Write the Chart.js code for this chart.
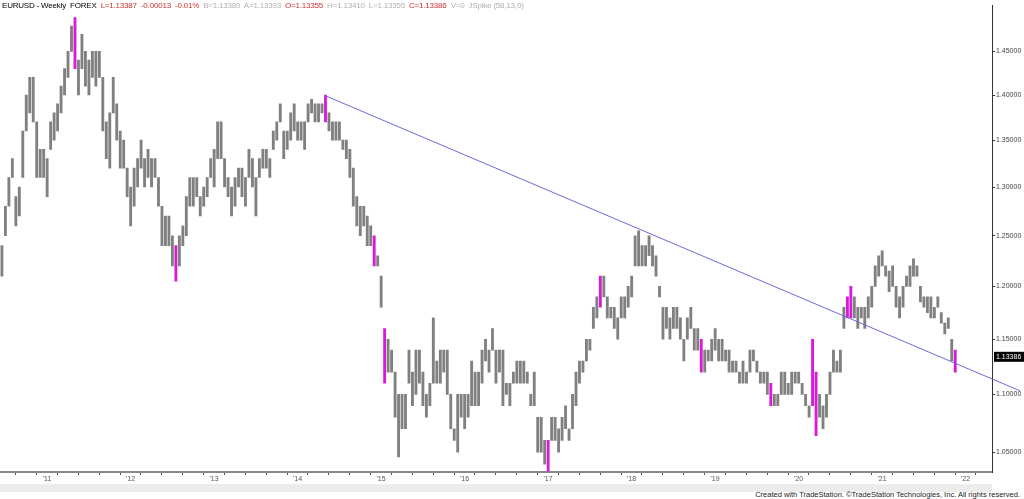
<!DOCTYPE html>
<html><head><meta charset="utf-8">
<script src="https://cdn.jsdelivr.net/npm/chart.js@4"></script>
<style>
html,body{margin:0;padding:0;background:#fff;width:1024px;height:499px;overflow:hidden;font-family:Arial,"Liberation Sans",sans-serif}
#wrap{position:absolute;left:0;top:0;width:1024px;height:484px}
#hdr{position:absolute;left:2px;top:1px;font-size:8px;white-space:nowrap;letter-spacing:-0.2px}
#hdr .k{color:#000}#hdr .r{color:#d03030}#hdr .g{color:#b0b0b0}
#bar{position:absolute;left:0;top:484px;width:992px;height:8px;background:#ececec}
#ft{position:absolute;right:4px;top:490px;font-size:7.5px;color:#222}
</style></head><body>
<div id="bar"></div>
<div id="wrap"><canvas id="c" width="1024" height="484"></canvas></div>
<div id="hdr"><span class="k">EURUSD - Weekly&nbsp; FOREX</span>&nbsp; <span class="r">L=1.13387&nbsp; -0.00013&nbsp; -0.01%</span>&nbsp; <span class="g">B=1.13380&nbsp; A=1.13393</span>&nbsp; <span class="r">O=1.13355</span>&nbsp; <span class="g">H=1.13410&nbsp; L=1.13355</span>&nbsp; <span class="r">C=1.13386</span>&nbsp; <span class="g">V=0&nbsp; JSpike (58,13,0)</span></div>
<div id="ft">Created with TradeStation. ©TradeStation Technologies, Inc. All rights reserved.</div>
<script>
const startYear = 2010.46, periodsPerYear = 24;
const lows = [
1.21,1.25,1.28,1.31,1.26,1.27,1.31,1.36,1.38,1.37,1.31,1.31,1.31,
1.29,1.34,1.35,1.36,1.38,1.40,1.42,1.45,1.43,1.40,1.43,1.41,1.40,1.42,1.41,1.42,1.36,1.33,1.32,1.38,1.35,1.32,1.32,1.29,
1.26,1.28,1.30,1.32,1.30,1.31,1.30,1.31,1.28,1.24,1.24,1.24,1.22,1.205,1.22,1.24,1.25,1.28,1.28,1.29,1.27,1.28,1.29,1.31,
1.30,1.33,1.33,1.30,1.29,1.27,1.28,1.30,1.29,1.28,1.31,1.30,1.27,1.31,1.32,1.32,1.31,1.34,1.35,1.37,1.33,1.34,1.35,1.36,
1.35,1.35,1.34,1.37,1.38,1.37,1.37,1.38,1.37,1.36,1.35,1.35,1.35,1.34,1.33,1.31,1.28,1.26,1.25,1.26,1.24,1.24,1.22,1.22,
1.18,1.11,1.12,1.12,1.08,1.046,1.07,1.07,1.11,1.09,1.10,1.11,1.09,1.08,1.09,1.11,1.11,1.11,1.12,1.10,1.07,1.06,1.05,1.08,
1.07,1.08,1.09,1.09,1.09,1.11,1.13,1.12,1.14,1.11,1.12,1.09,1.10,1.09,1.11,1.11,1.11,1.11,1.11,1.09,1.09,1.05,1.05,1.04,
1.034,1.06,1.06,1.05,1.06,1.07,1.06,1.07,1.09,1.11,1.12,1.13,1.14,1.16,1.17,1.18,1.19,1.17,1.17,1.16,1.15,1.17,1.17,1.18,
1.19,1.22,1.22,1.22,1.22,1.23,1.22,1.21,1.19,1.15,1.16,1.15,1.16,1.16,1.15,1.13,1.15,1.16,1.14,1.14,1.12,1.12,1.13,1.13,
1.14,1.13,1.13,1.13,1.12,1.12,1.12,1.11,1.11,1.11,1.12,1.13,1.12,1.11,1.11,1.10,1.09,1.09,1.09,1.10,1.10,1.10,1.10,1.11,
1.11,1.10,1.09,1.08,1.09,1.064,1.08,1.07,1.08,1.10,1.12,1.12,1.12,1.16,1.17,1.17,1.17,1.16,1.17,1.16,1.17,1.18,1.20,1.21,
1.22,1.21,1.195,1.20,1.18,1.17,1.18,1.20,1.20,1.21,1.21,1.185,1.18,1.175,1.17,1.17,1.18,1.165,1.155,1.16,1.13,1.12];
const highs = [
1.24,1.28,1.31,1.33,1.29,1.30,1.36,1.40,1.42,1.42,1.37,1.34,1.34,
1.33,1.37,1.38,1.39,1.41,1.43,1.45,1.48,1.49,1.44,1.47,1.45,1.44,1.45,1.45,1.45,1.42,1.37,1.38,1.42,1.39,1.36,1.35,1.32,
1.30,1.32,1.33,1.35,1.33,1.34,1.33,1.33,1.31,1.28,1.27,1.27,1.25,1.24,1.25,1.26,1.29,1.31,1.31,1.31,1.29,1.30,1.31,1.33,
1.34,1.37,1.37,1.33,1.31,1.30,1.31,1.32,1.32,1.31,1.34,1.33,1.31,1.33,1.34,1.34,1.33,1.36,1.37,1.39,1.36,1.36,1.38,1.39,
1.37,1.37,1.37,1.39,1.395,1.39,1.39,1.39,1.40,1.38,1.37,1.37,1.37,1.35,1.35,1.34,1.32,1.29,1.28,1.28,1.27,1.26,1.25,1.23,
1.21,1.16,1.15,1.14,1.12,1.10,1.10,1.10,1.14,1.12,1.14,1.14,1.12,1.10,1.11,1.17,1.13,1.14,1.14,1.14,1.10,1.07,1.10,1.10,
1.10,1.10,1.13,1.12,1.12,1.14,1.15,1.14,1.16,1.14,1.14,1.14,1.11,1.11,1.12,1.13,1.13,1.13,1.12,1.10,1.12,1.08,1.08,1.06,
1.06,1.08,1.08,1.07,1.08,1.09,1.07,1.10,1.12,1.13,1.13,1.15,1.15,1.18,1.19,1.21,1.21,1.19,1.18,1.18,1.17,1.19,1.19,1.20,
1.21,1.25,1.255,1.24,1.24,1.25,1.24,1.23,1.20,1.18,1.18,1.17,1.18,1.18,1.17,1.15,1.17,1.18,1.16,1.16,1.15,1.14,1.14,1.15,
1.16,1.15,1.15,1.14,1.14,1.13,1.13,1.12,1.13,1.12,1.14,1.14,1.13,1.12,1.12,1.12,1.11,1.10,1.10,1.12,1.12,1.11,1.12,1.12,
1.12,1.11,1.10,1.09,1.15,1.12,1.10,1.09,1.10,1.12,1.14,1.13,1.14,1.18,1.19,1.20,1.19,1.18,1.18,1.18,1.19,1.20,1.22,1.23,
1.235,1.22,1.215,1.22,1.20,1.19,1.20,1.21,1.22,1.227,1.22,1.20,1.19,1.19,1.19,1.18,1.19,1.175,1.165,1.17,1.15,1.14];
const highlighted = [21,50,93,107,110,157,172,201,221,233,234,243,244,274];
const priceTicks = [1.05,1.10,1.15,1.20,1.25,1.30,1.35,1.40,1.45];
const yearTicks = [2011,2012,2013,2014,2015,2016,2017,2018,2019,2020,2021,2022];
const trendX = [2014.33, 2022.65];
const trendY = [1.3993, 1.1033];
const lastPrice = 1.13386;

const barData = lows.map((l,i)=>({x:startYear+i/periodsPerYear, y:[l,highs[i]]}));
const trendData = trendX.map((x,i)=>({x, y:trendY[i]}));

const lastLabel = {id:'lastLabel', afterDraw(ch){
  const y = ch.scales.y, c = ch.ctx, py = y.getPixelForValue(lastPrice);
  c.save(); c.fillStyle='#000'; c.fillRect(y.left+2, py-5, 30, 10);
  c.fillStyle='#fff'; c.font='7px Arial'; c.textBaseline='middle';
  c.fillText(lastPrice.toFixed(5), y.left+4, py+0.5); c.restore();
}};

new Chart(document.getElementById('c'), {
  data:{datasets:[
    {type:'bar', data:barData, barThickness:2.2, grouped:false,
     backgroundColor: ctx => highlighted.includes(ctx.dataIndex) ? '#d81ad8' : '#808080', order:2},
    {type:'line', data:trendData, borderColor:'#6a6ad8', borderWidth:1, pointRadius:0, clip:false, order:1}
  ]},
  options:{
    responsive:false, animation:false, maintainAspectRatio:false,
    layout:{padding:{left:0,right:0,top:0,bottom:0}},
    plugins:{legend:{display:false}, tooltip:{enabled:false}},
    scales:{
      x:{type:'linear', min:2010.437, max:2022.317, offset:false,
        afterBuildTicks(s){ const t=[]; for(let q=2010.5;q<=2022.25;q+=0.25) t.push({value:q}); s.ticks=t; },
        afterFit(s){ s.height = 12; },
        grid:{display:true, drawOnChartArea:false, tickLength:3, color:'#555'},
        border:{display:true, color:'#888', width:2},
        ticks:{autoSkip:false, maxRotation:0, padding:0, color:'#555', font:{size:7},
          callback:v => (Math.abs(v-Math.round(v))<1e-6 && yearTicks.includes(Math.round(v))) ? "'"+String(Math.round(v)).slice(2) : ''}},
      y:{type:'logarithmic', position:'right', min:1.0334, max:1.505,
        afterBuildTicks(s){ s.ticks = priceTicks.map(v=>({value:v})); },
        afterFit(s){ s.width = 32; },
        grid:{display:true, drawOnChartArea:false, tickLength:3, color:'#333'},
        border:{display:true, color:'#333', width:1},
        ticks:{padding:1, color:'#444', font:{size:7}, callback:v=>Number(v).toFixed(5)}}
    }
  },
  plugins:[lastLabel]
});
</script></body></html>
